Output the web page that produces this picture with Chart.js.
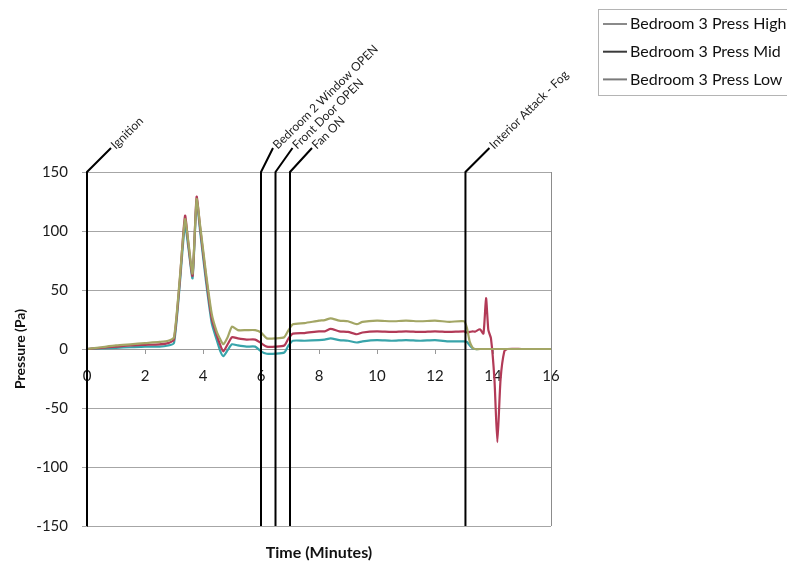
<!DOCTYPE html>
<html>
<head>
<meta charset="utf-8">
<script src="https://cdn.jsdelivr.net/npm/chart.js@4"></script>
<style>
  html, body { margin: 0; padding: 0; background: #fff; }
</style>
</head>
<body>
<canvas id="myChart" width="787" height="570"></canvas>
<script>
// time in minutes
const minutes = [0, 0.5, 1.0, 1.5, 2.0, 2.5, 2.8, 3.0, 3.2, 3.38, 3.5, 3.64, 3.78, 3.9, 4.1, 4.3, 4.47, 4.6, 4.7, 4.85,
  5.0, 5.2, 5.5, 5.8, 6.0, 6.2, 6.5, 6.8, 6.95, 7.1, 7.5, 8.0, 8.2, 8.4, 8.7, 9.0, 9.3, 9.5, 10.0, 10.5,
  11.0, 11.5, 12.0, 12.5, 13.0, 13.1, 13.2, 13.3, 13.38, 13.55, 13.67, 13.76, 13.84, 13.93, 14.05, 14.15, 14.26, 14.39, 14.5, 15.0, 16.0];

const pressHigh = [0, 1.5, 3, 4, 5, 6, 7, 10, 60, 110, 90, 64, 127, 105, 65, 30, 15, 8, 4, 10,
  19, 16, 16, 16, 14, 9, 9, 10, 16, 21, 22, 24, 24.5, 26, 24, 23.5, 21, 23, 24, 23.5,
  24, 23.5, 24, 23, 23.5, 18, 6, 1, 0, 0, 0, 0, 0, 0, 0, 0, 0, 0, 0, 0, 0];

const pressMid = [0, 1, 2, 3, 3.5, 4, 5, 8, 58, 113, 88, 62, 129, 103, 62, 26, 12, 3, -2, 4,
  10, 9, 8, 8, 5, 2, 2, 3, 9, 13, 13.5, 15, 15, 17, 15, 14.5, 12.5, 14, 15, 14.5,
  15, 14.5, 15, 14.5, 15, 14, 14.5, 15, 14.7, 16.7, 13, 43, 16, 9, -26, -79, -26, -2, 0, 0, 0];

const pressLow = [0, 0.5, 1, 1.5, 2, 2, 3, 5, 55, 105, 85, 60, 125, 100, 58, 22, 8, -2, -6, -1,
  4, 3, 2, 2, -2, -4, -4, -3, 3, 7, 7, 7.5, 8, 9, 7.5, 7, 5.5, 6.5, 7.5, 7,
  7.5, 7, 7.5, 6.5, 6.5, 6, 3, 0.5, 0, 0, 0, 0, 0, 0, 0, 0, 0, 0, 0, 0, 0];

const seriesNames = ['Bedroom 3 Press High', 'Bedroom 3 Press Mid', 'Bedroom 3 Press Low'];

// events marked on the chart
const eventTimes = [0, 6.0, 6.5, 7.0, 13.05];
const eventLabels = ['Ignition', 'Bedroom 2 Window OPEN', 'Front Door OPEN', 'Fan ON', 'Interior Attack - Fog'];

// styling
const lineColors = ['#a3a665', '#b23a57', '#38a4aa'];
const legendColors = ['#8a8a8a', '#3a3a3a', '#7a7a7a'];
const leaderDx = [24, 12, 17, 22, 24];

const toPoints = (vals) => vals.map((v, i) => ({ x: minutes[i], y: v }));

const eventPlugin = {
  id: 'events',
  afterDatasetsDraw(chart) {
    const { ctx, chartArea: area } = chart;
    const x = chart.scales.x;
    ctx.save();
    ctx.strokeStyle = '#8c8c8c';
    ctx.lineWidth = 1;
    ctx.beginPath();
    ctx.moveTo(area.right + 0.5, area.top);
    ctx.lineTo(area.right + 0.5, area.bottom);
    ctx.stroke();

    ctx.strokeStyle = '#000';
    ctx.lineWidth = 2;
    ctx.fillStyle = '#222';
    ctx.font = '12px Lato';
    ctx.textBaseline = 'middle';
    eventTimes.forEach((t, i) => {
      const px = x.getPixelForValue(t);
      const ex = px + leaderDx[i];
      const ey = area.top - 24;
      ctx.beginPath();
      ctx.moveTo(px, area.bottom);
      ctx.lineTo(px, area.top);
      ctx.lineTo(ex, ey);
      ctx.stroke();
      ctx.save();
      ctx.translate(ex + 2, ey - 1);
      ctx.rotate(-0.78);
      ctx.fillText(eventLabels[i], 0, 0);
      ctx.restore();
    });
    ctx.restore();
  },
  afterDraw(chart) {
    const ctx = chart.ctx;
    ctx.save();
    ctx.strokeStyle = '#b4b4b4';
    ctx.lineWidth = 1;
    ctx.strokeRect(598.5, 9.5, 200, 86);
    ctx.font = '16px Lato';
    ctx.fillStyle = '#111';
    ctx.textBaseline = 'middle';
    chart.data.datasets.forEach((ds, i) => {
      const y = 24 + i * 27.7;
      ctx.strokeStyle = legendColors[i];
      ctx.lineWidth = 2;
      ctx.beginPath();
      ctx.moveTo(603, y);
      ctx.lineTo(627, y);
      ctx.stroke();
      ctx.fillText(ds.label, 630, y);
    });
    ctx.restore();
  }
};

const ctx = document.getElementById('myChart').getContext('2d');
const myChart = new Chart(ctx, {
  type: 'line',
  data: {
    datasets: [pressHigh, pressMid, pressLow].map((vals, i) => ({
      label: seriesNames[i],
      data: toPoints(vals),
      borderColor: lineColors[i],
      backgroundColor: lineColors[i],
      borderWidth: 2.2,
      pointRadius: 0,
      tension: 0.2,
    })),
  },
  options: {
    responsive: false,
    animation: false,
    layout: { padding: { top: 172, right: 236, bottom: 0, left: 0 } },
    plugins: {
      legend: { display: false },
      tooltip: { enabled: false },
    },
    scales: {
      x: {
        type: 'linear',
        min: 0,
        max: 16,
        position: { y: 0 },
        ticks: { stepSize: 2, padding: 14, color: '#1a1a1a', font: { family: 'Lato', size: 15 } },
        grid: { drawOnChartArea: false, drawTicks: true, tickLength: 4, color: '#999' },
        border: { color: '#999' },
      },
      xTitle: {
        axis: 'x',
        type: 'linear',
        min: 0,
        max: 16,
        position: 'bottom',
        ticks: { display: false },
        grid: { display: false, drawTicks: false },
        border: { display: false },
        title: {
          display: true,
          text: 'Time (Minutes)',
          color: '#111',
          font: { family: 'Lato', size: 16, weight: 'bold' },
          padding: { top: 0, bottom: 8 },
        },
        afterFit: (scale) => { scale.height = 44; },
      },
      y: {
        min: -150,
        max: 150,
        ticks: { stepSize: 50, padding: 14, color: '#1a1a1a', font: { family: 'Lato', size: 15 } },
        grid: { color: '#a6a6a6', tickLength: 5 },
        border: { color: '#444' },
        title: {
          display: true,
          text: 'Pressure (Pa)',
          color: '#111',
          font: { family: 'Lato', size: 14, weight: 'bold' },
          padding: { top: 12, bottom: 0 },
        },
        afterFit: (scale) => { scale.width = 87; },
      },
    },
  },
  plugins: [eventPlugin],
});
</script>
</body>
</html>
